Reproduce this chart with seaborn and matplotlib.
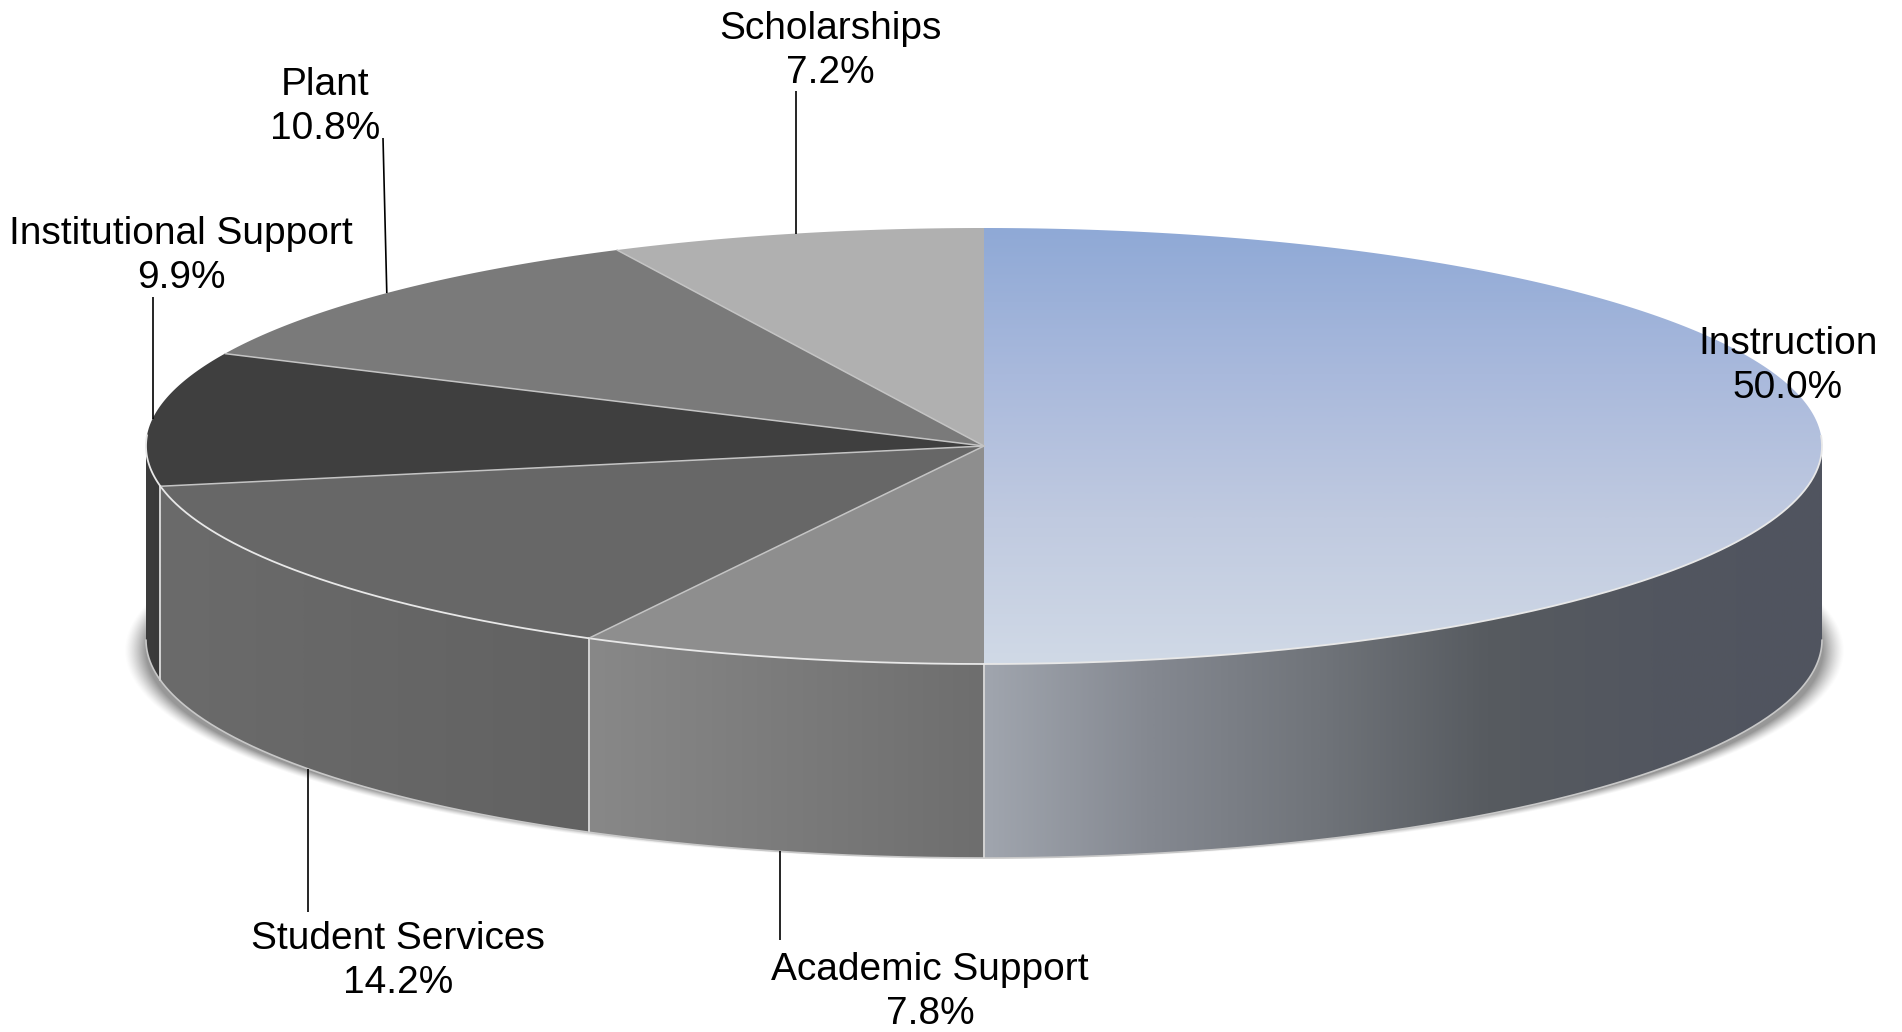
import numpy as np
import matplotlib
matplotlib.use("Agg")
import matplotlib.pyplot as plt
from matplotlib.patches import Polygon
import seaborn as sns

# ---- data ----
categories = ["Instruction", "Academic Support", "Student Services",
              "Institutional Support", "Plant", "Scholarships"]
shares = [50.0, 7.8, 14.2, 9.9, 10.8, 7.2]

# ---- style ----
top_colors = [None, "#8e8e8e", "#676767", "#3f3f3f", "#7a7a7a", "#b0b0b0"]
side_stops = [["#a0a5ae", "#848890", "#70747a", "#575b60", "#52565f", "#50545f"],
              ["#888888", "#6e6e6e"],
              ["#6b6b6b", "#626262"],
              ["#3c3c3c", "#3a3a3a"],
              ["#7a7a7a", "#7a7a7a"],
              ["#b0b0b0", "#b0b0b0"]]
label_xy = [(1788, 366), (930, 992), (398, 961), (181, 256), (325, 107), (830, 51)]
leader_end = [None, 940, 912, 297, (383, 138), 91]

W, H = 1902, 1032
CX, CY, RX, RY, DEPTH = 984, 446, 838, 218, 194

sns.set_theme(style="white")
plt.rcParams["font.family"] = ["Liberation Sans", "DejaVu Sans"]
fig = plt.figure(figsize=(W / 100, H / 100), dpi=100)
ax = fig.add_axes([0, 0, 1, 1])
ax.set_xlim(0, W)
ax.set_ylim(H, 0)
ax.set_autoscale_on(False)
ax.axis("off")


def ell(t, dy=0.0):
    return CX + RX * np.sin(t), CY - RY * np.cos(t) + dy


# the printed shares are rounded (they add to 99.9): Instruction is exactly half
# of the disc, the other slices share the remaining half in proportion
rest = np.cumsum(shares[1:]) / sum(shares[1:]) * np.pi
edges = np.concatenate([[0, np.pi], np.pi + rest])

# soft shadow below the disc
yy, xx = np.mgrid[560:900, 100:1880]
d = np.sqrt(((xx - CX) / 860) ** 2 + ((yy - 650) / 209) ** 2)
alpha = np.clip((1.0 - d) / 0.025, 0, 1) ** 1.3 * 0.68
rgba = np.zeros(d.shape + (4,))
rgba[..., :3] = 0.40
rgba[..., 3] = alpha
ax.imshow(rgba, extent=(100, 1880, 900, 560), aspect="auto", zorder=1, interpolation="bilinear")

EDGE = "#d4d4d4"

# visible rim of each slice
for i, (a, b) in enumerate(zip(edges[:-1], edges[1:])):
    a2, b2 = max(a, np.pi / 2), min(b, 3 * np.pi / 2)
    if b2 <= a2:
        continue
    t = np.linspace(a2, b2, 200)
    x, y0 = ell(t)
    _, y1 = ell(t, DEPTH)
    pts = np.column_stack([np.r_[x, x[::-1]], np.r_[y0, y1[::-1]]])
    patch = Polygon(pts, closed=True, facecolor="none", edgecolor="none", zorder=2)
    ax.add_patch(patch)
    cmap = sns.blend_palette(side_stops[i], as_cmap=True)
    g = np.linspace(0, 1, 400)[None, :]
    left, right = min(x[0], x[-1]), max(x[0], x[-1])
    ax.imshow(g, cmap=cmap, extent=(left, right, y1.max() + 2, y0.min() - 2), aspect="auto",
              clip_path=patch, clip_on=True, zorder=2, interpolation="bilinear")
    ax.plot(x, y1, color="#c8c8c8", lw=1.2, zorder=3)
    for xv, y_a, y_b in [(x[0], y0[0], y1[0]), (x[-1], y0[-1], y1[-1])]:
        if min(abs(xv - (CX - RX)), abs(xv - (CX + RX))) > 2:
            ax.plot([xv, xv], [y_a, y_b], color=EDGE, lw=1.2, zorder=3)

# top faces
for i, (a, b) in enumerate(zip(edges[:-1], edges[1:])):
    t = np.linspace(a, b, 300)
    x, y = ell(t)
    pts = np.column_stack([np.r_[CX, x], np.r_[CY, y]])
    if top_colors[i] is None:
        patch = Polygon(pts, closed=True, facecolor="none", edgecolor="none", zorder=4)
        ax.add_patch(patch)
        cmap = sns.blend_palette(["#8fa9d6", "#a9b9dc", "#c0cae0", "#d0d9e6"], as_cmap=True)
        g = np.linspace(0, 1, 400)[:, None]
        ax.imshow(g, cmap=cmap, extent=(x.min(), x.max(), y.max(), y.min()), aspect="auto",
                  clip_path=patch, clip_on=True, zorder=4, interpolation="bilinear", origin="upper")
    else:
        ax.add_patch(Polygon(pts, closed=True, facecolor=top_colors[i], edgecolor="none", zorder=4))
    # dividers between slices, except the two along the blue slice
    if i >= 2:
        ax.plot(np.r_[CX, x[0]], np.r_[CY, y[0]], color="#c4c4c4", lw=1.1, zorder=5)
    front = np.cos(t) < 0.05
    ax.plot(x[front], y[front], color="#e8e8e8", lw=1.3, zorder=5)

# leader lines and labels
for i, name in enumerate(categories):
    mid = (edges[i] + edges[i + 1]) / 2
    hidden = np.pi / 2 < mid < 3 * np.pi / 2
    ex, ey = ell(mid, DEPTH if hidden else 0)
    end = leader_end[i]
    if end is not None:
        lx, ly = end if isinstance(end, tuple) else (ex, end)
        ax.plot([ex, lx], [ey, ly], color="black", lw=1.2, zorder=6, solid_capstyle="butt")
    ax.text(*label_xy[i], f"{name}\n{shares[i]:.1f}%", ha="center", va="center", color="black",
            fontsize=28, linespacing=1.27, zorder=7)

fig.savefig("out.png", dpi=100, facecolor="white")
